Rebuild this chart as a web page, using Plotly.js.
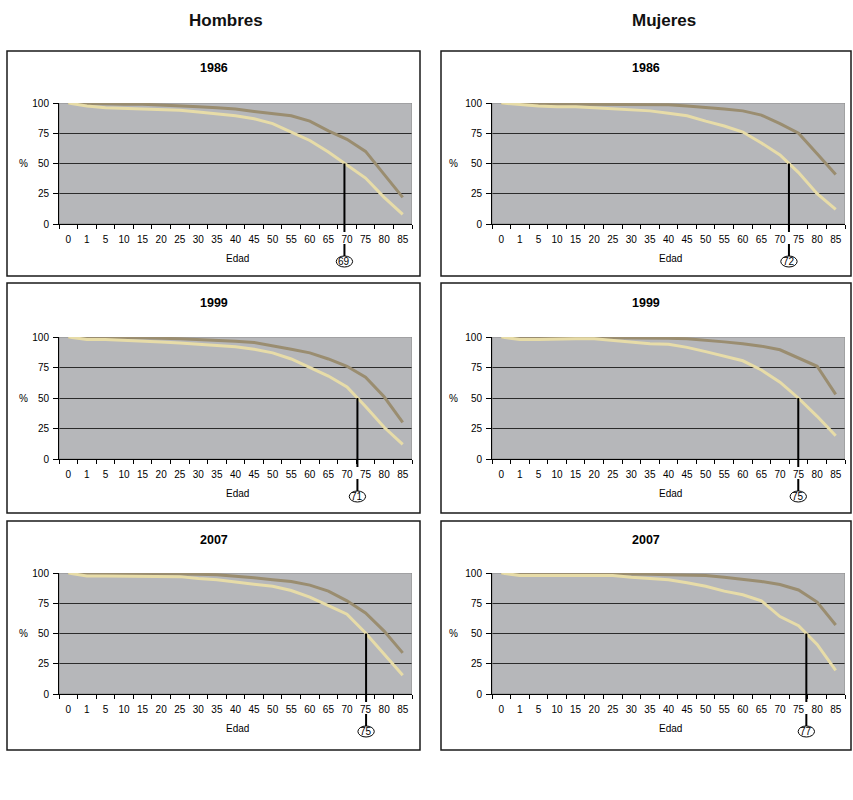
<!DOCTYPE html>
<html>
<head>
<meta charset="utf-8">
<script src="https://cdn.plot.ly/plotly-3.0.1.min.js"></script>
<style>
html,body{margin:0;padding:0;background:#ffffff;}
#chart{width:853px;height:800px;}
</style>
</head>
<body>
<div id="chart"></div>
<script>
// ---------- DATA ----------
const edades = ['0','1','5','10','15','20','25','30','35','40','45','50','55','60','65','70','75','80','85'];

const hombres1986Oscura = [100, 99.5, 99, 99, 99, 98.5, 97.5, 97, 96, 95, 93, 91.5, 89.5, 85, 77, 70, 60, 41, 22];
const hombres1986Clara  = [100, 97.5, 96, 95.5, 95, 94, 94, 92.5, 91, 89.5, 87, 83, 76, 69, 59.5, 48.5, 38, 22, 8];

const mujeres1986Oscura = [100, 99.5, 99, 99, 99, 99, 99, 99, 98.5, 98.5, 97.5, 96.5, 95, 93.5, 90, 83, 75, 58, 41];
const mujeres1986Clara  = [100, 98.5, 97.5, 97, 97, 96, 95, 94, 93.5, 91.5, 89.5, 85, 81, 76, 67, 57, 42.5, 25, 12];

const hombres1999Oscura = [100, 99.5, 99.5, 99.5, 99.5, 99, 98.5, 98, 97.5, 96.5, 95.5, 93, 90, 87, 82, 76, 67, 51, 30];
const hombres1999Clara  = [100, 98, 98, 97.5, 97, 96, 95, 94, 93.5, 92, 90, 87, 82, 75, 68, 59, 43, 26, 12];

const mujeres1999Oscura = [100, 99.5, 99.5, 99.5, 99.5, 99.5, 99.5, 99.5, 99, 99, 98.5, 97.5, 96, 94.5, 92.5, 89.5, 83, 76, 53];
const mujeres1999Clara  = [100, 98, 98, 98.5, 98.5, 98.5, 97, 95.5, 94.5, 94, 91.5, 88, 84.5, 80.5, 73, 63, 49.8, 35, 19];

const hombres2007Oscura = [100, 99.5, 99.5, 99.5, 99.5, 99.5, 99, 99, 98.5, 97.5, 96, 94.5, 93, 90, 85, 77, 67, 52, 34];
const hombres2007Clara  = [100, 97.5, 97.5, 97.5, 97.5, 97.5, 97, 95.5, 94.5, 92.5, 90.5, 89, 85.5, 80, 73, 66, 50.5, 33, 15.5];

const mujeres2007Oscura = [100, 99.5, 99.5, 99.5, 99.5, 99.5, 99.5, 99.5, 99, 98.5, 98.5, 98, 96.5, 95, 93, 90.5, 86, 76, 57];
const mujeres2007Clara  = [100, 98, 98, 98, 98, 98, 98, 96.5, 95.5, 94.5, 92, 89, 85, 82, 77, 64, 56.5, 41, 19.5];

const columnas = ['Hombres', 'Mujeres'];
const anios = ['1986', '1999', '2007'];
const medianas = ['69', '72', '71', '75', '75', '77']; // H1986, M1986, H1999, M1999, H2007, M2007
const yTicks = [0, 25, 50, 75, 100];
const tituloX = 'Edad';
const tituloY = '%';

// ---------- LAYOUT ----------
const W = 853, H = 800;
const FONT = 'Liberation Sans, Arial, Helvetica, sans-serif';
const colorOscura = '#9a8d70';
const colorClara = '#e7dca8';
const fondo = '#b6b7ba';

const cols = [
  {plot: [59, 412], box: [7, 420], pct: 23},
  {plot: [492, 845], box: [441, 851], pct: 453}
];
const rows = [
  {plot: [103, 224], box: [51, 276], title: 68},
  {plot: [337, 459], box: [283, 513], title: 303},
  {plot: [573, 694], box: [521, 750], title: 540}
];

const panels = [
  {r: 0, c: 0, osc: hombres1986Oscura, cla: hombres1986Clara, med: medianas[0]},
  {r: 0, c: 1, osc: mujeres1986Oscura, cla: mujeres1986Clara, med: medianas[1]},
  {r: 1, c: 0, osc: hombres1999Oscura, cla: hombres1999Clara, med: medianas[2]},
  {r: 1, c: 1, osc: mujeres1999Oscura, cla: mujeres1999Clara, med: medianas[3]},
  {r: 2, c: 0, osc: hombres2007Oscura, cla: hombres2007Clara, med: medianas[4]},
  {r: 2, c: 1, osc: mujeres2007Oscura, cla: mujeres2007Clara, med: medianas[5]}
];

const idx = edades.map((_, i) => i);
const xRange = [-0.5, edades.length - 0.5];
const yRange = [0, 100];

function cruce50(vals) {
  for (let i = 0; i < vals.length - 1; i++) {
    if (vals[i] >= 50 && vals[i + 1] < 50) {
      return i + (vals[i] - 50) / (vals[i] - vals[i + 1]);
    }
  }
  return vals.length - 1;
}
const px = v => v / W;
const py = v => 1 - v / H;

const data = [];
const layout = {
  width: W, height: H,
  margin: {l: 0, r: 0, t: 0, b: 0},
  paper_bgcolor: '#ffffff',
  plot_bgcolor: fondo,
  showlegend: false,
  font: {family: FONT, color: '#000', size: 10},
  shapes: [],
  annotations: []
};

columnas.forEach((t, c) => {
  layout.annotations.push({
    text: '<b>' + t + '</b>', xref: 'paper', yref: 'paper',
    x: px(c === 0 ? 226 : 664), y: py(20), showarrow: false,
    xanchor: 'center', yanchor: 'middle',
    font: {family: FONT, size: 17, color: '#111'}
  });
});

panels.forEach((p, k) => {
  const n = k + 1;
  const sx = n === 1 ? '' : String(n);
  const xa = 'x' + sx, ya = 'y' + sx;
  const tickAxisNum = n + 6;
  const col = cols[p.c], row = rows[p.r];
  const dom = [px(col.plot[0]), px(col.plot[1])];

  // main x axis: labels at category centres, no tick marks
  layout['xaxis' + sx] = {
    domain: dom,
    anchor: ya,
    range: xRange,
    tickmode: 'array', tickvals: idx, ticktext: edades,
    ticks: '', ticklabelstandoff: 6,
    showgrid: false, zeroline: false,
    showline: true, linecolor: '#000', linewidth: 1,
    tickfont: {family: FONT, size: 10, color: '#000'},
    fixedrange: true
  };
  // overlay x axis: tick marks on category boundaries
  layout['xaxis' + tickAxisNum] = {
    domain: dom,
    overlaying: xa,
    anchor: ya,
    side: 'bottom',
    range: xRange,
    tickmode: 'linear', tick0: -0.5, dtick: 1,
    ticks: 'outside', ticklen: 4, tickwidth: 1, tickcolor: '#000',
    showticklabels: false, showgrid: false, zeroline: false, showline: false,
    fixedrange: true
  };
  layout['yaxis' + sx] = {
    domain: [py(row.plot[1]), py(row.plot[0])],
    anchor: xa,
    range: yRange,
    tickmode: 'array', tickvals: yTicks,
    ticks: 'outside', ticklen: 5, tickwidth: 1, tickcolor: '#000',
    ticklabelstandoff: 2,
    showgrid: true, gridcolor: '#2b2b2b', gridwidth: 1,
    zeroline: false,
    showline: true, linecolor: '#000', linewidth: 1,
    tickfont: {family: FONT, size: 10, color: '#000'},
    fixedrange: true
  };

  data.push({
    type: 'scatter', mode: 'lines', x: idx, y: p.osc, xaxis: xa, yaxis: ya,
    line: {color: colorOscura, width: 3}, hoverinfo: 'skip'
  });
  data.push({
    type: 'scatter', mode: 'lines', x: idx, y: p.cla, xaxis: xa, yaxis: ya,
    line: {color: colorClara, width: 3}, hoverinfo: 'skip'
  });
  // empty trace to register the overlay tick axis
  data.push({
    type: 'scatter', mode: 'lines', x: [], y: [], xaxis: 'x' + tickAxisNum, yaxis: ya,
    hoverinfo: 'skip'
  });

  // plot-area border (grey top/right), between grid and traces
  layout.shapes.push({
    type: 'rect', xref: xa, yref: ya,
    x0: xRange[0], x1: xRange[1], y0: yRange[0], y1: yRange[1], layer: 'between',
    line: {color: '#8c8c8c', width: 1}, fillcolor: 'rgba(0,0,0,0)'
  });
  // panel frame
  layout.shapes.push({
    type: 'rect', xref: 'paper', yref: 'paper',
    x0: px(col.box[0]), x1: px(col.box[1]), y0: py(row.box[1]), y1: py(row.box[0]),
    line: {color: '#1a1a1a', width: 1.5}, fillcolor: 'rgba(0,0,0,0)', layer: 'above'
  });

  // median marker
  const xc = cruce50(p.cla);
  const bottom = row.plot[1];
  layout.shapes.push({
    type: 'line', xref: xa, yref: ya, x0: xc, x1: xc, y0: 50, y1: 0,
    line: {color: '#000', width: 2}, layer: 'above'
  });
  layout.shapes.push({
    type: 'line', xref: xa, yref: 'paper', x0: xc, x1: xc, y0: py(bottom), y1: py(bottom + 8),
    line: {color: '#000', width: 2}, layer: 'above'
  });
  layout.shapes.push({
    type: 'line', xref: xa, yref: 'paper', x0: xc, x1: xc, y0: py(bottom + 20), y1: py(bottom + 32),
    line: {color: '#000', width: 2}, layer: 'above'
  });
  layout.shapes.push({
    type: 'circle', xref: xa, yref: 'paper', x0: xc - 0.44, x1: xc + 0.44,
    y0: py(bottom + 43), y1: py(bottom + 32),
    line: {color: '#000', width: 1}, fillcolor: 'rgba(0,0,0,0)', layer: 'above'
  });
  layout.annotations.push({
    text: p.med, xref: xa, yref: 'paper', x: xc, y: py(bottom + 37.5),
    showarrow: false, xanchor: 'center', yanchor: 'middle',
    font: {family: FONT, size: 10, color: '#000'}
  });

  // panel title
  layout.annotations.push({
    text: '<b>' + anios[p.r] + '</b>', xref: 'paper', yref: 'paper',
    x: px((col.box[0] + col.box[1]) / 2), y: py(row.title),
    showarrow: false, xanchor: 'center', yanchor: 'middle',
    font: {family: FONT, size: 12.5, color: '#000'}
  });
  // axis titles
  layout.annotations.push({
    text: tituloX, xref: 'paper', yref: 'paper',
    x: px((col.plot[0] + col.plot[1]) / 2 + 2), y: py(bottom + 34),
    showarrow: false, xanchor: 'center', yanchor: 'middle',
    font: {family: FONT, size: 10, color: '#000'}
  });
  layout.annotations.push({
    text: tituloY, xref: 'paper', yref: 'paper',
    x: px(col.pct), y: py((row.plot[0] + row.plot[1]) / 2),
    showarrow: false, xanchor: 'center', yanchor: 'middle',
    font: {family: FONT, size: 10, color: '#000'}
  });
});

Plotly.newPlot('chart', data, layout, {displayModeBar: false, staticPlot: true});
</script>
</body>
</html>
